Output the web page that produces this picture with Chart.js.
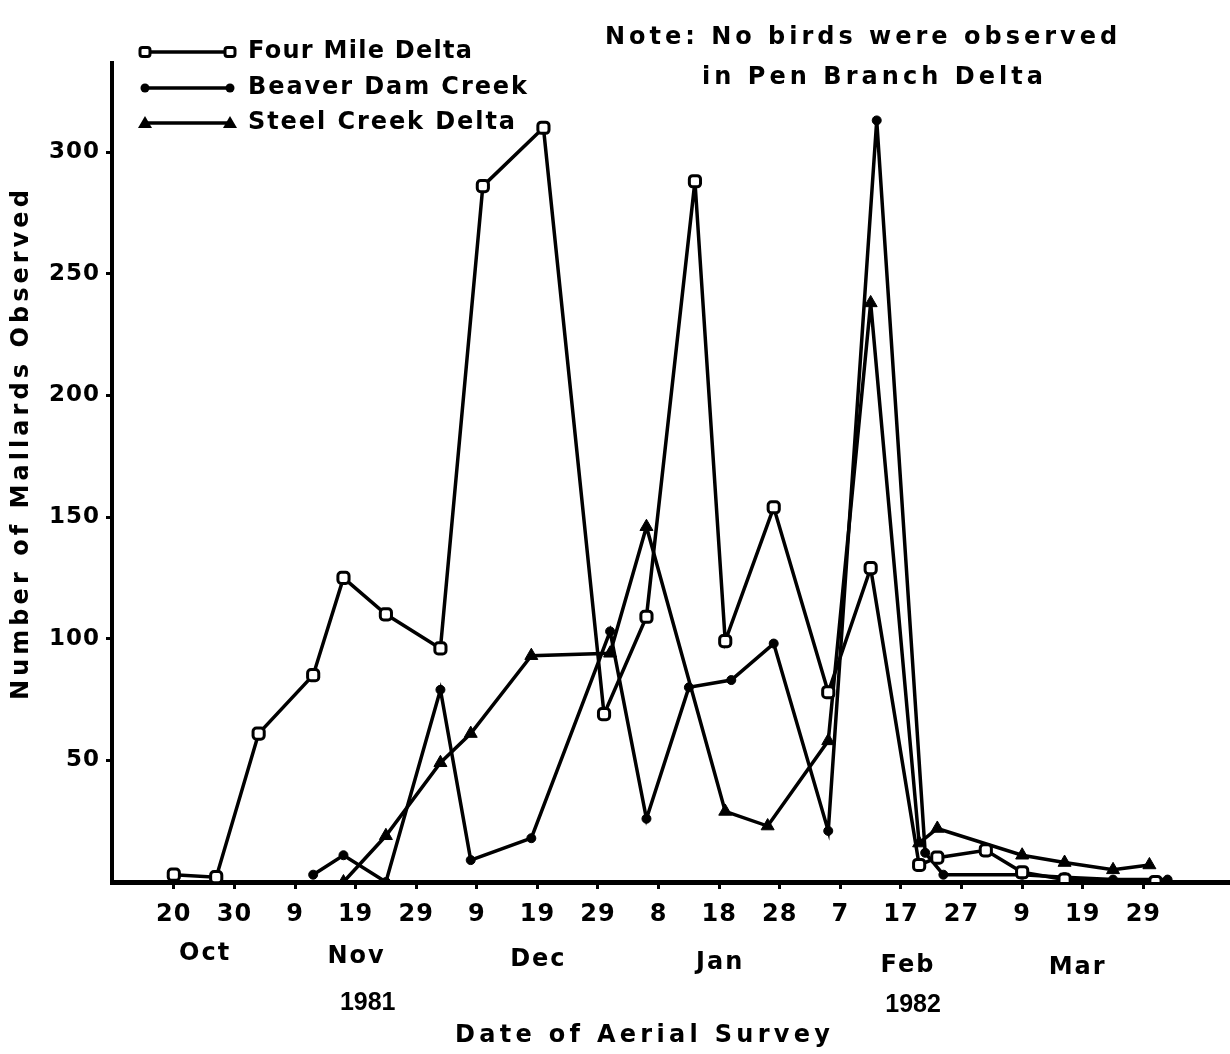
<!DOCTYPE html>
<html>
<head>
<meta charset="utf-8">
<script src="https://cdn.jsdelivr.net/npm/chart.js@4.4.1/dist/chart.umd.min.js"></script>
<style>
  html, body { margin: 0; padding: 0; background: #fff; }
  canvas { display: block; }
</style>
</head>
<body>
<canvas id="chart" width="1230" height="1054"></canvas>
<script>
// survey dates as days counted from 20 Oct 1981
const fourMileDays   = [0, 7, 14, 23, 28, 35, 44, 51, 61, 71, 78, 86, 91, 99, 108, 115, 123, 126, 134, 140, 147, 162];
const fourMileCounts = [3, 2, 61, 85, 125, 110, 96, 286, 310, 69, 109, 288, 99, 154, 78, 129, 7, 10, 13, 4, 1, 0];

const beaverDays   = [23, 28, 35, 44, 49, 59, 72, 78, 85, 92, 99, 108, 116, 124, 127, 140, 147, 155, 164];
const beaverCounts = [3, 11, 0, 79, 9, 18, 103, 26, 80, 83, 98, 21, 313, 12, 3, 3, 2, 1, 1];

const steelDays   = [28, 35, 44, 49, 59, 72, 78, 91, 98, 108, 115, 123, 126, 140, 147, 155, 161];
const steelCounts = [0, 19, 49, 61, 93, 94, 146, 29, 23, 58, 238, 16, 22, 11, 8, 5, 7];

const seriesNames = ['Four Mile Delta', 'Beaver Dam Creek', 'Steel Creek Delta'];

const xTickDays   = [0, 10, 20, 30, 40, 50, 60, 70, 80, 90, 100, 110, 120, 130, 140, 150, 160];
const xTickLabels = ['20', '30', '9', '19', '29', '9', '19', '29', '8', '18', '28', '7', '17', '27', '9', '19', '29'];
const monthLabels = ['Oct', 'Nov', 'Dec', 'Jan', 'Feb', 'Mar'];
const monthDays   = [5, 30, 60, 90, 121, 149];
const yearLabels  = ['1981', '1982'];
const yearDays    = [32, 122];
const yTickValues = [50, 100, 150, 200, 250, 300];

const FONT = '"DejaVu Sans", "Liberation Sans", sans-serif';
const NARROW = '"Liberation Sans", Arial, sans-serif';

const toPoints = (days, counts) => days.map((d, i) => ({x: d, y: counts[i]}));

function fitText(ctx, text, left, y, width) {
    ctx.letterSpacing = '0px';
    const w = ctx.measureText(text).width;
    const sp = (width - w) / Math.max(1, text.length - 1);
    ctx.letterSpacing = sp.toFixed(2) + 'px';
    ctx.textAlign = 'left';
    ctx.fillText(text, left, y);
}

function marker(ctx, style, x, y) {
    ctx.beginPath();
    if (style === 'square') {
        ctx.fillStyle = '#fff';
        ctx.lineWidth = 3;
        ctx.roundRect(x - 5, y - 4.5, 10, 9, 2.5);
        ctx.fill();
        ctx.stroke();
        ctx.fillStyle = '#000';
    } else if (style === 'circle') {
        ctx.arc(x, y, 4.5, 0, Math.PI * 2);
        ctx.fill();
    } else {
        ctx.moveTo(x, y - 7);
        ctx.lineTo(x + 7, y + 5);
        ctx.lineTo(x - 7, y + 5);
        ctx.closePath();
        ctx.fill();
    }
}

const overlay = {
    id: 'overlay',
    beforeDraw(chart) {
        chart.ctx.letterSpacing = '1px';
    },
    afterDraw(chart) {
        const ctx = chart.ctx;
        const xs = chart.scales.x;
        ctx.save();
        ctx.fillStyle = '#000';
        ctx.strokeStyle = '#000';
        ctx.textBaseline = 'middle';

        // month and year rows under the axis (the scan sags a little to the right)
        ctx.textAlign = 'center';
        ctx.font = 'bold 24px ' + FONT;
        ctx.letterSpacing = '2px';
        monthLabels.forEach((m, i) => {
            const px = xs.getPixelForValue(monthDays[i]);
            ctx.fillText(m, px + 1, 954 + (px - 200) * 0.016);
        });
        ctx.font = 'bold 25px ' + NARROW;
        ctx.letterSpacing = '0px';
        yearLabels.forEach((y, i) => {
            const px = xs.getPixelForValue(yearDays[i]);
            ctx.fillText(y, px, 1003 + (px - 368) * 0.004);
        });

        // axis titles
        ctx.font = 'bold 24px ' + FONT;
        fitText(ctx, 'Date of Aerial Survey', 455, 1036, 375);
        ctx.save();
        ctx.translate(22, 445);
        ctx.rotate(-Math.PI / 2);
        fitText(ctx, 'Number of Mallards Observed', -255, 0, 510);
        ctx.restore();

        // note
        fitText(ctx, 'Note: No birds were observed', 605, 38, 512);
        fitText(ctx, 'in Pen Branch Delta', 702, 78, 341);

        // legend
        const styles = ['square', 'circle', 'triangle'];
        const rows = [52, 88, 123];
        const widths = [224, 279, 267];
        seriesNames.forEach((name, i) => {
            const y = rows[i];
            ctx.lineWidth = 3.5;
            ctx.beginPath();
            ctx.moveTo(145, y);
            ctx.lineTo(230, y);
            ctx.stroke();
            marker(ctx, styles[i], 145, y);
            marker(ctx, styles[i], 230, y);
            fitText(ctx, name, 248, y, widths[i]);
        });
        ctx.restore();
    }
};

const lineStyle = {
    borderColor: '#000',
    borderWidth: 3.5,
    tension: 0,
    pointBorderColor: '#000',
    pointHoverRadius: 0
};

new Chart(document.getElementById('chart'), {
    type: 'line',
    data: {
        datasets: [
            {
                ...lineStyle,
                label: seriesNames[0],
                data: toPoints(fourMileDays, fourMileCounts),
                pointStyle: 'rectRounded',
                pointRadius: 6.5,
                pointBackgroundColor: '#fff',
                pointBorderWidth: 3
            },
            {
                ...lineStyle,
                label: seriesNames[1],
                data: toPoints(beaverDays, beaverCounts),
                pointStyle: 'circle',
                pointRadius: 4.5,
                pointBackgroundColor: '#000',
                pointBorderWidth: 1
            },
            {
                ...lineStyle,
                label: seriesNames[2],
                data: toPoints(steelDays, steelCounts),
                pointStyle: 'triangle',
                pointRadius: 7.5,
                pointBackgroundColor: '#000',
                pointBorderWidth: 1
            }
        ]
    },
    options: {
        responsive: false,
        animation: false,
        events: [],
        layout: {autoPadding: false, padding: {top: 63, right: 0, bottom: 0, left: 0}},
        plugins: {
            legend: {display: false},
            tooltip: {enabled: false}
        },
        scales: {
            x: {
                type: 'linear',
                min: -10.2,
                max: 174.3,
                afterFit: s => { s.height = 172; s.paddingLeft = 0; s.paddingRight = 0; },
                afterBuildTicks: s => { s.ticks = xTickDays.map(v => ({value: v})); },
                border: {display: true, color: '#000', width: 5},
                grid: {drawOnChartArea: false, drawTicks: true, tickLength: 7, tickWidth: 3, color: '#000'},
                ticks: {
                    color: '#000',
                    font: {family: FONT, size: 24, weight: 'bold'},
                    padding: 11,
                    maxRotation: 0,
                    autoSkip: false,
                    callback: (v, i) => xTickLabels[i]
                }
            },
            y: {
                min: 0,
                max: 336.6,
                afterFit: s => { s.width = 112; },
                afterBuildTicks: s => { s.ticks = yTickValues.map(v => ({value: v})); },
                border: {display: true, color: '#000', width: 4},
                grid: {drawOnChartArea: false, drawTicks: true, tickLength: 6, tickWidth: 3, color: '#000'},
                ticks: {
                    color: '#000',
                    font: {family: FONT, size: 23, weight: 'bold'},
                    padding: 6,
                    callback: v => String(v)
                }
            }
        }
    },
    plugins: [overlay]
});
</script>
</body>
</html>
